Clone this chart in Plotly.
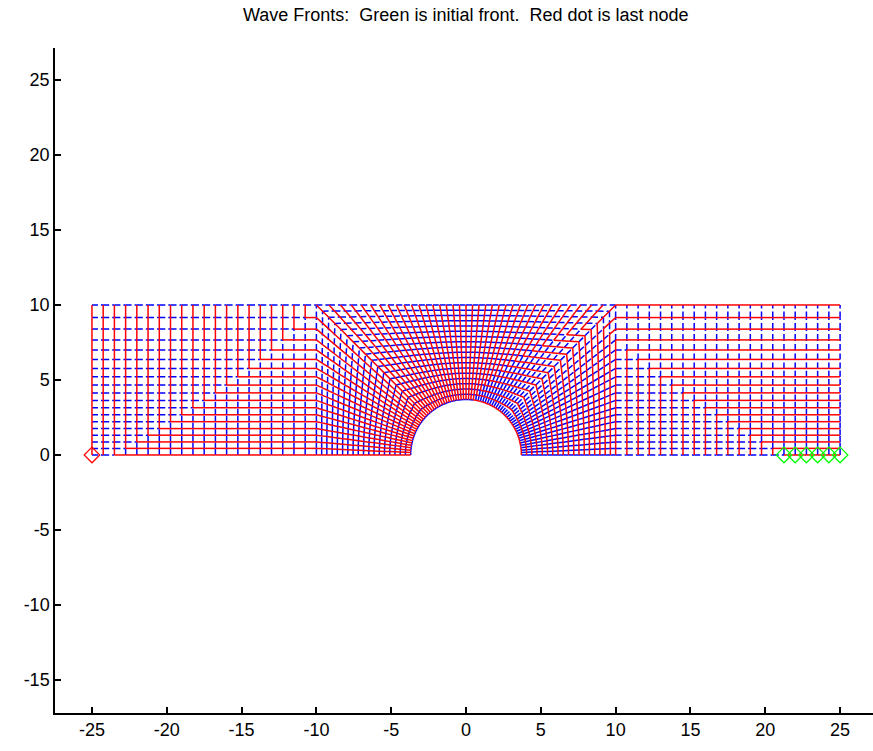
import numpy as np
import plotly.graph_objects as go
from collections import deque

# ---- mesh description ----
# column positions of the two rectangular blocks
left_cols_x = [-25.0, -24.25, -23.5, -22.75, -22.0, -21.25, -20.5, -19.75, -19.0, -18.25,
               -17.5, -16.75, -16.0, -15.25, -14.5, -13.75, -13.0, -12.25, -11.5, -10.75, -10.0]
right_cols_x = [10.0, 10.75, 11.5, 12.25, 13.0, 13.75, 14.5, 15.25, 16.0, 16.75,
                17.5, 18.25, 19.0, 19.75, 20.5, 21.25, 22.0, 22.75, 23.5, 24.25, 25.0]
# row positions shared by all blocks (bottom to top)
row_y = [0.0, 0.44, 0.87, 1.32, 1.76, 2.22, 2.68, 3.15, 3.64, 4.14,
         4.66, 5.21, 5.77, 6.37, 7.0, 7.67, 8.39, 9.16, 10.0]
# nodes along the top edge of the centre block (left to right)
top_x = [-10.0, -9.16, -8.39, -7.67, -7.0, -6.37, -5.77, -5.21, -4.66, -4.14,
         -3.64, -3.15, -2.68, -2.22, -1.76, -1.32, -0.87, -0.44, 0.0,
         0.44, 0.87, 1.32, 1.76, 2.22, 2.68, 3.15, 3.64, 4.14, 4.66,
         5.21, 5.77, 6.37, 7.0, 7.67, 8.39, 9.16, 10.0]
hole_radius = 3.7
# fraction of the way from the hole to the outer boundary for each ring
ring_frac = [0.0, 0.056, 0.111, 0.167, 0.222, 0.278, 0.333, 0.389, 0.444, 0.5,
             0.556, 0.611, 0.667, 0.722, 0.778, 0.833, 0.889, 0.944, 1.0]
# starting front and final node
initial_front_x = [21.25, 22.0, 22.75, 23.5, 24.25, 25.0]
initial_front_y = [0.0, 0.0, 0.0, 0.0, 0.0, 0.0]
last_node_x = [-25.0]
last_node_y = [0.0]
# axis ticks
x_ticks = [-25, -20, -15, -10, -5, 0, 5, 10, 15, 20, 25]
y_ticks = [-15, -10, -5, 0, 5, 10, 15, 20, 25]

# ---- build node table ----
coords = []
index = {}


def node(x, y):
    key = (round(x, 3), round(y, 3))
    if key not in index:
        index[key] = len(coords)
        coords.append((x, y))
    return index[key]


blocks = []
for cols in (left_cols_x, right_cols_x):
    blocks.append([[node(x, y) for y in row_y] for x in cols])

# centre block: outer boundary (left side, top, right side) and hole
outer = [(-10.0, y) for y in row_y] + [(x, 10.0) for x in top_x[1:]] + \
        [(10.0, y) for y in row_y[::-1][1:]]
centre = []
for bx, by in outer:
    d = np.hypot(bx, by)
    cx, cy = hole_radius * bx / d, hole_radius * by / d
    centre.append([node(cx + f * (bx - cx), cy + f * (by - cy)) for f in ring_frac])
blocks.append(centre)

# ---- edges and element connectivity ----
edges = set()
adj = [set() for _ in coords]
for g in blocks:
    ni, nj = len(g), len(g[0])
    for i in range(ni):
        for j in range(nj):
            if i + 1 < ni:
                edges.add(tuple(sorted((g[i][j], g[i + 1][j]))))
            if j + 1 < nj:
                edges.add(tuple(sorted((g[i][j], g[i][j + 1]))))
            if i + 1 < ni and j + 1 < nj:
                quad = [g[i][j], g[i + 1][j], g[i + 1][j + 1], g[i][j + 1]]
                for a in quad:
                    for b in quad:
                        if a != b:
                            adj[a].add(b)

# ---- breadth-first wave fronts ----
level = [-1] * len(coords)
q = deque()
for x, y in zip(initial_front_x, initial_front_y):
    n = index[(round(x, 3), round(y, 3))]
    level[n] = 0
    q.append(n)
while q:
    n = q.popleft()
    for m in adj[n]:
        if level[m] < 0:
            level[m] = level[n] + 1
            q.append(m)

red_x, red_y, blue_x, blue_y = [], [], [], []
for a, b in sorted(edges):
    (x0, y0), (x1, y1) = coords[a], coords[b]
    if level[a] == level[b]:
        red_x += [x0, x1, None]
        red_y += [y0, y1, None]
    else:
        blue_x += [x0, x1, None]
        blue_y += [y0, y1, None]

fig = go.Figure()
fig.add_trace(go.Scatter(x=blue_x, y=blue_y, mode="lines",
                         line=dict(color="#0000FF", width=1.5, dash="6px,3px", simplify=False),
                         hoverinfo="skip", showlegend=False))
fig.add_trace(go.Scatter(x=red_x, y=red_y, mode="lines",
                         line=dict(color="#FF0000", width=1.5, simplify=False),
                         hoverinfo="skip", showlegend=False))
fig.add_trace(go.Scatter(x=initial_front_x, y=initial_front_y, mode="markers",
                         marker=dict(symbol="diamond-open", size=12, color="#00FF00",
                                     line=dict(width=1.2, color="#00FF00")),
                         showlegend=False))
fig.add_trace(go.Scatter(x=last_node_x, y=last_node_y, mode="markers",
                         marker=dict(symbol="diamond-open", size=12, color="#FF0000",
                                     line=dict(width=1.2, color="#FF0000")),
                         showlegend=False))

font = dict(family="Liberation Sans, Arial, sans-serif", size=18, color="black")
axis_common = dict(showline=True, linecolor="black", linewidth=1.5, ticks="inside",
                   ticklen=6, tickcolor="black", tickwidth=1.5, showgrid=False,
                   zeroline=False, mirror=False, tickfont=font)
fig.update_layout(
    width=873, height=751,
    margin=dict(l=55, r=0, t=48, b=38),
    paper_bgcolor="white", plot_bgcolor="white",
    xaxis=dict(range=[-27.47, 27.2], tickvals=x_ticks,
               ticktext=[str(v) for v in x_ticks], **axis_common),
    yaxis=dict(range=[-17.2, 27.13], tickvals=y_ticks,
               ticktext=[str(v) for v in y_ticks], **axis_common),
    annotations=[dict(text="Wave Fronts:  Green is initial front.  Red dot is last node",
                      x=0, xref="x", y=1 + (48 - 15) / 665.0, yref="paper",
                      yanchor="middle", showarrow=False, font=font)],
)
fig.write_html("out.html")
